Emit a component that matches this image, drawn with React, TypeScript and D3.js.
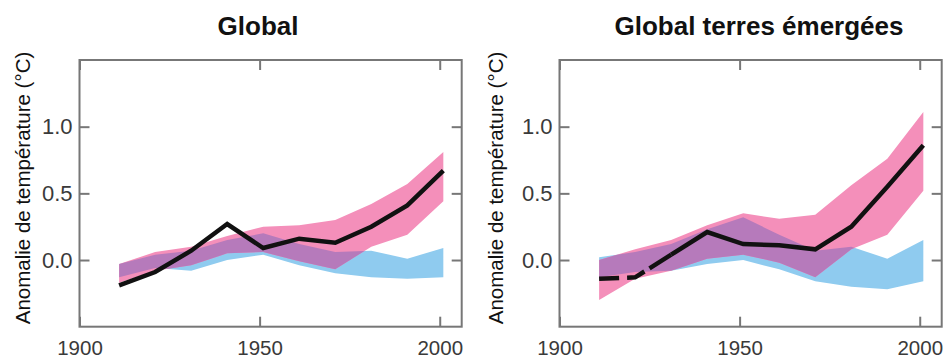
import React, { useRef, useEffect } from "react";
import { select, scaleLinear, axisLeft, axisRight, axisBottom, axisTop, area, line, format } from "d3";

// decade centres (1906-1915 ... 1996-2005)
const decades = [1911, 1921, 1931, 1941, 1951, 1961, 1971, 1981, 1991, 2001];

// Global
const obsGlobal = [-0.19, -0.09, 0.07, 0.27, 0.09, 0.16, 0.13, 0.25, 0.41, 0.67];
const allGlobalLow = [-0.17, -0.08, -0.04, 0.05, 0.06, -0.01, -0.07, 0.1, 0.19, 0.44];
const allGlobalHigh = [-0.03, 0.06, 0.1, 0.18, 0.25, 0.26, 0.3, 0.42, 0.57, 0.81];
const natGlobalLow = [-0.13, -0.06, -0.08, 0.0, 0.04, -0.04, -0.1, -0.13, -0.14, -0.13];
const natGlobalHigh = [-0.03, 0.04, 0.07, 0.15, 0.2, 0.12, 0.06, 0.07, 0.01, 0.09];

// Global terres émergées
const obsLand = [-0.14, -0.13, 0.04, 0.21, 0.12, 0.11, 0.08, 0.25, 0.55, 0.86];
const allLandLow = [-0.3, -0.14, -0.08, 0.01, 0.04, -0.02, -0.13, 0.08, 0.19, 0.52];
const allLandHigh = [0.0, 0.08, 0.15, 0.26, 0.35, 0.31, 0.34, 0.56, 0.76, 1.11];
const natLandLow = [-0.13, -0.09, -0.08, -0.03, 0.0, -0.07, -0.16, -0.2, -0.22, -0.16];
const natLandHigh = [0.02, 0.06, 0.12, 0.23, 0.32, 0.19, 0.07, 0.1, 0.01, 0.15];

const xTicks = [1900, 1950, 2000];
const yTicks = [0, 0.5, 1.0];

const PINK = "#f48fba";
const BLUE = "#8fcbef";
const PURPLE = "#b67abb";
const FONT = "'Liberation Sans', Arial, sans-serif";

const panels = [
  {
    id: "global", title: "Global", titleX: 258, labelX: 30, left: 79.5,
    obs: obsGlobal, allLo: allGlobalLow, allHi: allGlobalHigh, natLo: natGlobalLow, natHi: natGlobalHigh,
    dashedPoints: 0,
  },
  {
    id: "land", title: "Global terres émergées", titleX: 759, labelX: 503, left: 559.5,
    obs: obsLand, allLo: allLandLow, allHi: allLandHigh, natLo: natLandLow, natHi: natLandHigh,
    dashedPoints: 3,
  },
];

function drawPanel(svg, p) {
  const top = 60, bottom = 326.7, width = 382.2;
  const x = scaleLinear().domain([1900, 2006.1]).range([p.left, p.left + width]);
  const y = scaleLinear().domain([-0.5, 1.5]).range([bottom, top]);
  const g = svg.append("g");

  const rows = decades.map((year, i) => ({
    year, obs: p.obs[i], allLo: p.allLo[i], allHi: p.allHi[i], natLo: p.natLo[i], natHi: p.natHi[i],
  }));

  const natArea = area().x(d => x(d.year)).y0(d => y(d.natLo)).y1(d => y(d.natHi));
  const allArea = area().x(d => x(d.year)).y0(d => y(d.allLo)).y1(d => y(d.allHi));

  g.append("path").attr("d", natArea(rows)).attr("fill", BLUE);
  g.append("path").attr("d", allArea(rows)).attr("fill", PINK);
  // overlap of the two bands
  g.append("clipPath").attr("id", p.id + "-nat").append("path").attr("d", natArea(rows));
  g.append("path")
    .attr("d", allArea(rows))
    .attr("fill", PURPLE)
    .attr("clip-path", `url(#${p.id}-nat)`);

  const obsLine = line().x(d => x(d.year)).y(d => y(d.obs));
  if (p.dashedPoints > 0) {
    g.append("path")
      .attr("d", obsLine(rows.slice(0, p.dashedPoints)))
      .attr("fill", "none")
      .attr("stroke", "#111")
      .attr("stroke-width", 4.5)
      .attr("stroke-dasharray", "20 8 19 6 200 0");
  }
  g.append("path")
    .attr("d", obsLine(rows.slice(Math.max(p.dashedPoints - 1, 0))))
    .attr("fill", "none")
    .attr("stroke", "#111")
    .attr("stroke-width", 4.5);

  // axes, ticks pointing inward
  const styleAxis = (sel, size) => {
    sel.select(".domain").remove();
    sel.attr("color", "#777").attr("font-family", FONT).attr("font-size", size);
    sel.selectAll("line").attr("stroke-width", 2);
    sel.selectAll("text").attr("fill", "#3a3a3a");
  };
  g.append("g").attr("transform", `translate(${p.left},0)`)
    .call(axisLeft(y).tickValues(yTicks).tickSize(-10).tickPadding(7).tickFormat(format(".1f")))
    .call(s => styleAxis(s, 22));
  g.append("g").attr("transform", `translate(${p.left + width},0)`)
    .call(axisRight(y).tickValues(yTicks).tickSize(-10).tickFormat(() => ""))
    .call(s => styleAxis(s, 22));
  g.append("g").attr("transform", `translate(0,${bottom})`)
    .call(axisBottom(x).tickValues(xTicks).tickSize(-10).tickPadding(14).tickFormat(format("d")))
    .call(s => styleAxis(s, 20.5));
  g.append("g").attr("transform", `translate(0,${top})`)
    .call(axisTop(x).tickValues(xTicks).tickSize(-10).tickFormat(() => ""))
    .call(s => styleAxis(s, 20));

  g.append("rect")
    .attr("x", p.left).attr("y", top)
    .attr("width", width).attr("height", bottom - top)
    .attr("fill", "none").attr("stroke", "#777").attr("stroke-width", 2);

  g.append("text")
    .attr("x", p.titleX).attr("y", 35)
    .attr("text-anchor", "middle")
    .attr("font-family", FONT).attr("font-weight", "bold").attr("font-size", 26)
    .attr("fill", "#111")
    .text(p.title);

  g.append("text")
    .attr("transform", `translate(${p.labelX},188) rotate(-90)`)
    .attr("text-anchor", "middle")
    .attr("font-family", FONT).attr("font-size", 20.5)
    .attr("fill", "#111")
    .text("Anomalie de température (°C)");
}

export default function App() {
  const svgRef = useRef(null);

  useEffect(() => {
    document.body.style.margin = "0";
    const svg = select(svgRef.current);
    svg.selectAll("*").remove();
    panels.forEach(p => drawPanel(svg, p));
  }, []);

  return <svg ref={svgRef} width={945} height={359} style={{ display: "block", background: "#fff" }} />;
}
